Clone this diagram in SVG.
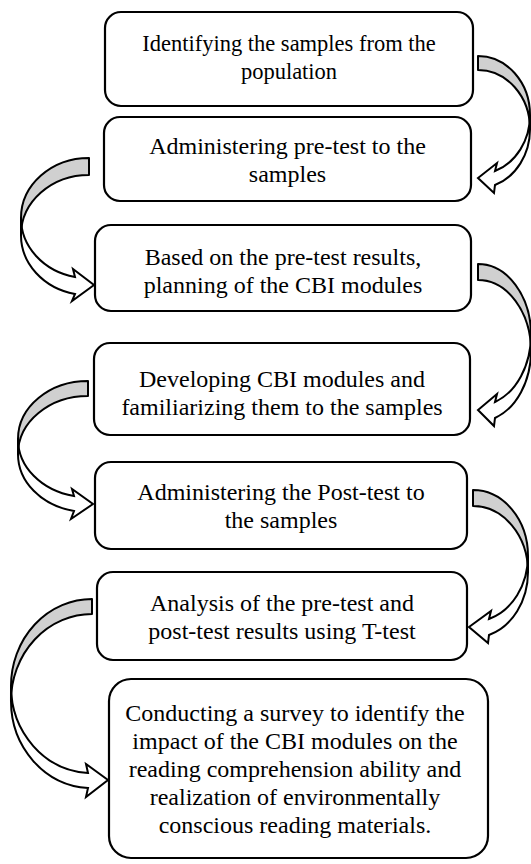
<svg xmlns="http://www.w3.org/2000/svg" width="531" height="864" viewBox="0 0 531 864">
<style>
.box{fill:#fff;stroke:#000;stroke-width:2.2}
.t{font-family:"Liberation Serif","Times New Roman",serif;font-size:24px;fill:#000;text-anchor:middle}
.s{font-size:22.5px}
.back{fill:#d0d0d0;stroke:#000;stroke-width:2;stroke-linejoin:round}
.front{fill:#fff;stroke:#000;stroke-width:2;stroke-linejoin:miter}
</style>
<rect width="531" height="864" fill="#fff"/>
<g id="n1"><rect class="box" x="105" y="12" width="368" height="94" rx="16"/>
<text class="t s" x="289" y="51">Identifying the samples from the</text>
<text class="t s" x="289" y="79">population</text></g>
<g id="n2"><rect class="box" x="104" y="117" width="367" height="84" rx="16"/>
<text class="t" x="287.5" y="154">Administering pre-test to the</text>
<text class="t" x="287.5" y="182">samples</text></g>
<g id="n3"><rect class="box" x="95" y="225" width="376" height="86" rx="16"/>
<text class="t" x="283" y="265">Based on the pre-test results,</text>
<text class="t" x="283" y="293">planning of the CBI modules</text></g>
<g id="n4"><rect class="box" x="94" y="343" width="376" height="92" rx="16"/>
<text class="t" x="282" y="387">Developing CBI modules and</text>
<text class="t" x="282" y="415">familiarizing them to the samples</text></g>
<g id="n5"><rect class="box" x="95" y="462" width="372" height="87" rx="16"/>
<text class="t" x="281" y="500">Administering the Post-test to</text>
<text class="t" x="281" y="528">the samples</text></g>
<g id="n6"><rect class="box" x="97" y="572" width="370" height="88" rx="16"/>
<text class="t" x="282" y="611">Analysis of the pre-test and</text>
<text class="t" x="282" y="639">post-test results using T-test</text></g>
<g id="n7"><rect class="box" x="109" y="679" width="379" height="179" rx="22"/>
<text class="t" x="295" y="721">Conducting a survey to identify the</text>
<text class="t" x="295" y="749">impact of the CBI modules on the</text>
<text class="t" x="295" y="777">reading comprehension ability and</text>
<text class="t" x="295" y="805">realization of environmentally</text>
<text class="t" x="295" y="833">conscious reading materials.</text></g>
<g id="connectors">
<path class="back" d="M478,56 A52,59 0 0 1 530,115 L530,129 A52,59 0 0 0 478,70 Z"/>
<path class="front" d="M530,115 A52,59 0 0 1 495,171 L497,163 L478,178 L494,193 L495,185 A52,59 0 0 0 530,129 Z"/>
<path class="back" d="M89,158 A68,60 0 0 0 21,218 L21,235 A68,60 0 0 1 89,175 Z"/>
<path class="front" d="M21,218 A68,60 0 0 0 75,277 L73,269 L94,285 L72,301 L75,294 A68,60 0 0 1 21,235 Z"/>
<path class="back" d="M478,264 A53,71 0 0 1 531,335 L531,351 A53,71 0 0 0 478,280 Z"/>
<path class="front" d="M531,335 A53,71 0 0 1 495,402 L497,394 L478,410 L494,426 L495,418 A53,71 0 0 0 531,351 Z"/>
<path class="back" d="M88,381 A70,58 0 0 0 18,439 L18,454 A70,58 0 0 1 88,396 Z"/>
<path class="front" d="M18,439 A70,58 0 0 0 74,496 L72,489 L93,504 L71,519 L74,511 A70,58 0 0 1 18,454 Z"/>
<path class="back" d="M473,490 A55,66 0 0 1 528,556 L528,572 A55,66 0 0 0 473,506 Z"/>
<path class="front" d="M528,556 A55,66 0 0 1 489,619 L491,611 L469,627 L488,643 L489,635 A55,66 0 0 0 528,572 Z"/>
<path class="back" d="M92,599 A81,87 0 0 0 11,686 L11,701 A81,87 0 0 1 92,614 Z"/>
<path class="front" d="M11,686 A81,87 0 0 0 88,773 L86,764 L108,780 L86,797 L88,788 A81,87 0 0 1 11,701 Z"/>
</g>
</svg>
